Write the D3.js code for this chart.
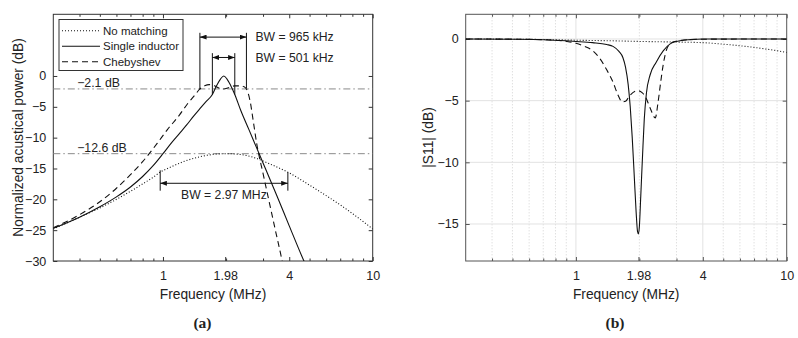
<!DOCTYPE html>
<html>
<head>
  <meta charset="utf-8">
  <title>Acoustic power and S11</title>
  <script src="https://cdn.jsdelivr.net/npm/d3@7/dist/d3.min.js"></script>
  <style>
    body { margin: 0; background: #fff; }
  </style>
</head>
<body>
  <script>
    // Frekvenser i MHz, vaerdier i dB (aflaest fra figuren)
    // (a) normaliseret akustisk effekt
    const noMatchA = [[0.3, -24.8], [0.35, -23.8], [0.4, -22.9], [0.5, -21.4], [0.6, -20.0], [0.7, -18.7],
      [0.8, -17.5], [0.9, -16.4], [0.97, -15.6], [1.1, -14.7], [1.25, -13.9], [1.5, -13.1], [1.75, -12.7],
      [2.0, -12.6], [2.3, -12.7], [2.7, -13.2], [3.2, -14.2], [3.94, -15.6], [5, -17.7], [6, -19.4],
      [7, -20.9], [8, -22.3], [9, -23.6], [10, -24.8]];
    const singleA = [[0.3, -24.7], [0.4, -22.9], [0.5, -21.2], [0.6, -19.6], [0.7, -18.0], [0.8, -16.3],
      [0.9, -14.5], [1.0, -12.6], [1.1, -10.8], [1.2, -9.3], [1.3, -7.9], [1.4, -6.5], [1.5, -5.3],
      [1.6, -4.2], [1.72, -3.0], [1.8, -1.6], [1.88, -0.5], [1.95, 0], [2.02, -0.5], [2.1, -1.5],
      [2.2, -3.0], [2.35, -5.6], [2.57, -8.7], [2.8, -11.7], [3.0, -14.1], [3.5, -19.5], [4.0, -24.3],
      [4.7, -30], [5, -32]];
    const chebyA = [[0.3, -24.6], [0.4, -22.5], [0.5, -20.4], [0.6, -18.2], [0.7, -16.0], [0.8, -13.9],
      [0.86, -12.6], [0.94, -10.9], [1.05, -8.7], [1.2, -6.3], [1.31, -4.5], [1.42, -3.1], [1.5, -2.1],
      [1.58, -1.6], [1.66, -1.4], [1.76, -1.6], [1.86, -2.0], [1.95, -2.1], [2.05, -1.9], [2.2, -1.6],
      [2.35, -1.6], [2.45, -1.8], [2.5, -2.1], [2.6, -4.0], [2.7, -7.5], [2.8, -11], [3.0, -15.8],
      [3.2, -20.2], [3.45, -25.3], [3.7, -30], [3.8, -32]];

    // (b) |S11|
    const noMatchB = [[0.3, 0], [0.5, -0.02], [0.8, -0.06], [1, -0.1], [1.5, -0.15], [2, -0.2], [3, -0.25],
      [4, -0.3], [5, -0.42], [6, -0.55], [7, -0.68], [8, -0.82], [9, -0.95], [10, -1.1]];
    const singleB = [[0.3, 0], [0.5, -0.02], [0.7, -0.06], [0.9, -0.15], [1.0, -0.2], [1.2, -0.3],
      [1.4, -0.45], [1.5, -0.6], [1.6, -1.0], [1.67, -1.5], [1.72, -2.3], [1.77, -3.7], [1.81, -5.5],
      [1.85, -8], [1.89, -11], [1.93, -14], [1.96, -15.6], [1.98, -15.8], [2.0, -15.2], [2.03, -12.8],
      [2.07, -9.5], [2.11, -6.5], [2.16, -4.4], [2.25, -2.9], [2.4, -1.9], [2.6, -0.95], [2.8, -0.4],
      [3.0, -0.2], [3.5, -0.05], [4, 0], [10, 0]];
    const chebyB = [[0.3, 0], [0.6, -0.03], [0.8, -0.1], [0.9, -0.2], [1.0, -0.35], [1.1, -0.6],
      [1.2, -0.95], [1.3, -1.6], [1.4, -2.5], [1.5, -3.5], [1.58, -4.5], [1.66, -5.1], [1.72, -5.05],
      [1.8, -4.6], [1.9, -4.25], [1.97, -4.2], [2.06, -4.35], [2.14, -4.7], [2.25, -5.6], [2.38, -6.4],
      [2.45, -5.2], [2.52, -3.6], [2.6, -2.0], [2.7, -0.8], [2.8, -0.4], [2.95, -0.2], [3.3, -0.08],
      [4, -0.02], [10, 0]];

    // Akser
    const xMajor = [1, 1.98, 4, 10];
    const xMinor = [0.4, 0.5, 0.6, 0.7, 0.8, 0.9, 2, 3, 5, 6, 7, 8, 9];
    const yTicksA = [-30, -25, -20, -15, -10, -5, 0];
    const yTicksB = [-15, -10, -5, 0];

    // Annoteringer (a)
    const refLevels = [-2.1, -12.6];
    const refLabels = ["\u22122.1 dB", "\u221212.6 dB"];
    const bw965 = [1.5, 2.5];
    const bw501 = [1.72, 2.2];
    const bw297 = [0.97, 3.94];
    const legendNames = ["No matching", "Single inductor", "Chebyshev"];

    const W = 798, H = 338;
    const sans = "'Liberation Sans', Arial, sans-serif";
    const svg = d3.select("body").append("svg").attr("width", W).attr("height", H)
      .attr("font-family", sans).attr("fill", "#222");

    const defs = svg.append("defs");
    defs.append("marker")
      .attr("id", "arrow")
      .attr("viewBox", "0 0 8 6")
      .attr("refX", 8).attr("refY", 3)
      .attr("markerWidth", 7).attr("markerHeight", 5)
      .attr("markerUnits", "userSpaceOnUse")
      .attr("orient", "auto-start-reverse")
      .append("path").attr("d", "M0,0 L8,3 L0,6 z").attr("fill", "#111");

    const dashes = { none: null, dot: "1,2", dash: "6,4" };

    function panel(id, xr, yDomain, yTicks, frameColor, grid) {
      const top = 14.3, bottom = 261;
      const x = d3.scaleLog().domain([0.3, 10]).range(xr);
      const y = d3.scaleLinear().domain(yDomain).range([bottom, top]);
      const g = svg.append("g");

      defs.append("clipPath").attr("id", "clip" + id)
        .append("rect").attr("x", xr[0]).attr("y", top).attr("width", xr[1] - xr[0]).attr("height", bottom - top);

      if (grid) {
        g.selectAll(".gminor").data(xMinor).enter().append("line")
          .attr("x1", d => x(d)).attr("x2", d => x(d)).attr("y1", top).attr("y2", bottom)
          .attr("stroke", "#c8c8c8").attr("stroke-width", 0.8).attr("stroke-dasharray", "1,2");
        g.selectAll(".gmaj").data([1, 4]).enter().append("line")
          .attr("x1", d => x(d)).attr("x2", d => x(d)).attr("y1", top).attr("y2", bottom)
          .attr("stroke", "#e2e2e2").attr("stroke-width", 1);
        g.selectAll(".gy").data(yTicks).enter().append("line")
          .attr("x1", xr[0]).attr("x2", xr[1]).attr("y1", d => y(d)).attr("y2", d => y(d))
          .attr("stroke", "#e2e2e2").attr("stroke-width", 1);
      }

      // akser med indadvendte ticks
      const fmtX = d => String(d);
      const axes = [
        [d3.axisBottom(x).tickValues(xMajor).tickSize(-4).tickPadding(10).tickFormat(fmtX), bottom, 0],
        [d3.axisBottom(x).tickValues(xMinor).tickSize(-2.5).tickFormat(""), bottom, 0],
        [d3.axisTop(x).tickValues(xMajor).tickSize(-4).tickFormat(""), top, 0],
        [d3.axisTop(x).tickValues(xMinor).tickSize(-2.5).tickFormat(""), top, 0],
        [d3.axisLeft(y).tickValues(yTicks).tickSize(-4).tickPadding(7), 0, xr[0]],
        [d3.axisRight(y).tickValues(yTicks).tickSize(-4).tickFormat(""), 0, xr[1]]
      ];
      axes.forEach(a => {
        const ax = g.append("g").attr("transform", "translate(" + a[2] + "," + a[1] + ")").call(a[0]);
        ax.select(".domain").remove();
        ax.attr("font-family", sans).attr("font-size", 12.5);
        ax.selectAll("line").attr("stroke", frameColor);
        ax.selectAll("text").attr("fill", "#222");
      });

      g.append("rect").attr("x", xr[0]).attr("y", top).attr("width", xr[1] - xr[0]).attr("height", bottom - top)
        .attr("fill", "none").attr("stroke", frameColor).attr("stroke-width", 1);

      g.append("text").attr("x", (xr[0] + xr[1]) / 2).attr("y", 298.5)
        .attr("text-anchor", "middle").attr("font-size", 13.8).text("Frequency (MHz)");

      return { x, y, g, clip: "url(#clip" + id + ")" };
    }

    function curve(p, data, dash) {
      const line = d3.line().x(d => p.x(d[0])).y(d => p.y(d[1])).curve(d3.curveMonotoneX);
      p.g.append("path").datum(data)
        .attr("d", line)
        .attr("clip-path", p.clip)
        .attr("fill", "none").attr("stroke", "#111").attr("stroke-width", 1.1)
        .attr("stroke-dasharray", dashes[dash]);
    }

    // ---------- (a) ----------
    const A = panel("A", [53.3, 372.7], [-30, 10], yTicksA, "#333", false);

    A.g.selectAll(".ref").data(refLevels).enter().append("line")
      .attr("x1", A.x(0.3)).attr("x2", A.x(10))
      .attr("y1", d => A.y(d)).attr("y2", d => A.y(d))
      .attr("stroke", "#8a8a8a").attr("stroke-width", 1).attr("stroke-dasharray", "7,3,1.5,3");
    A.g.selectAll(".reft").data(refLevels).enter().append("text")
      .attr("x", A.x(0.39)).attr("y", d => A.y(d) - 1.8)
      .attr("font-size", 12.3).text((d, i) => refLabels[i]);

    curve(A, noMatchA, "dot");
    curve(A, singleA, "none");
    curve(A, chebyA, "dash");

    // baandbredde-klammer
    function bracket(p, f, yArrow, yFoot, label, labelF, labelDb) {
      p.g.append("line").attr("x1", p.x(f[0])).attr("x2", p.x(f[1]))
        .attr("y1", p.y(yArrow)).attr("y2", p.y(yArrow))
        .attr("stroke", "#111").attr("stroke-width", 1)
        .attr("marker-start", "url(#arrow)").attr("marker-end", "url(#arrow)");
      f.forEach((v, i) => {
        p.g.append("line").attr("x1", p.x(v)).attr("x2", p.x(v))
          .attr("y1", p.y(yFoot[i][0])).attr("y2", p.y(yFoot[i][1]))
          .attr("stroke", "#111").attr("stroke-width", 1);
      });
      p.g.append("text").attr("x", p.x(labelF)).attr("y", p.y(labelDb)).attr("dy", "0.35em")
        .attr("font-size", 12.2).text(label);
    }
    bracket(A, bw965, 6.3, [[7.0, -2.2], [7.0, -2.0]], "BW = 965 kHz", 2.76, 6.3);
    bracket(A, bw501, 3.0, [[3.7, -3.0], [3.7, -3.0]], "BW = 501 kHz", 2.76, 3.0);
    bracket(A, bw297, -17.4, [[-15.3, -18.6], [-15.6, -18.6]], "BW = 2.97 MHz", 1.22, -19.3);

    // forklaring
    const leg = A.g.append("g").attr("transform", "translate(59,19.5)");
    leg.append("rect").attr("width", 124).attr("height", 51)
      .attr("fill", "#fff").attr("stroke", "#333").attr("stroke-width", 1);
    const legDash = ["dot", "none", "dash"];
    legendNames.forEach((name, i) => {
      const yy = 11.2 + i * 15.5;
      leg.append("line").attr("x1", 3).attr("x2", 41).attr("y1", yy).attr("y2", yy)
        .attr("stroke", "#111").attr("stroke-width", 1.1).attr("stroke-dasharray", dashes[legDash[i]]);
      leg.append("text").attr("x", 44).attr("y", yy).attr("dy", "0.35em")
        .attr("font-size", 11.5).text(name);
    });

    svg.append("text").attr("transform", "translate(18,137.5) rotate(-90)")
      .attr("text-anchor", "middle").attr("dy", "0.35em").attr("font-size", 13.8)
      .text("Normalized acustical power (dB)");

    // ---------- (b) ----------
    const B = panel("B", [465.7, 786.7], [-18, 2], yTicksB, "#555", true);
    curve(B, noMatchB, "dot");
    curve(B, singleB, "none");
    curve(B, chebyB, "dash");

    svg.append("text").attr("transform", "translate(428,137.5) rotate(-90)")
      .attr("text-anchor", "middle").attr("dy", "0.35em").attr("font-size", 13.8)
      .text("|S11| (dB)");

    // underskrifter
    [["(a)", 202.5], ["(b)", 615]].forEach(c => {
      svg.append("text").attr("x", c[1]).attr("y", 328).attr("text-anchor", "middle")
        .attr("font-family", "'Liberation Serif', 'DejaVu Serif', serif")
        .attr("font-weight", "bold").attr("font-size", 15.5).text(c[0]);
    });
  </script>
</body>
</html>
